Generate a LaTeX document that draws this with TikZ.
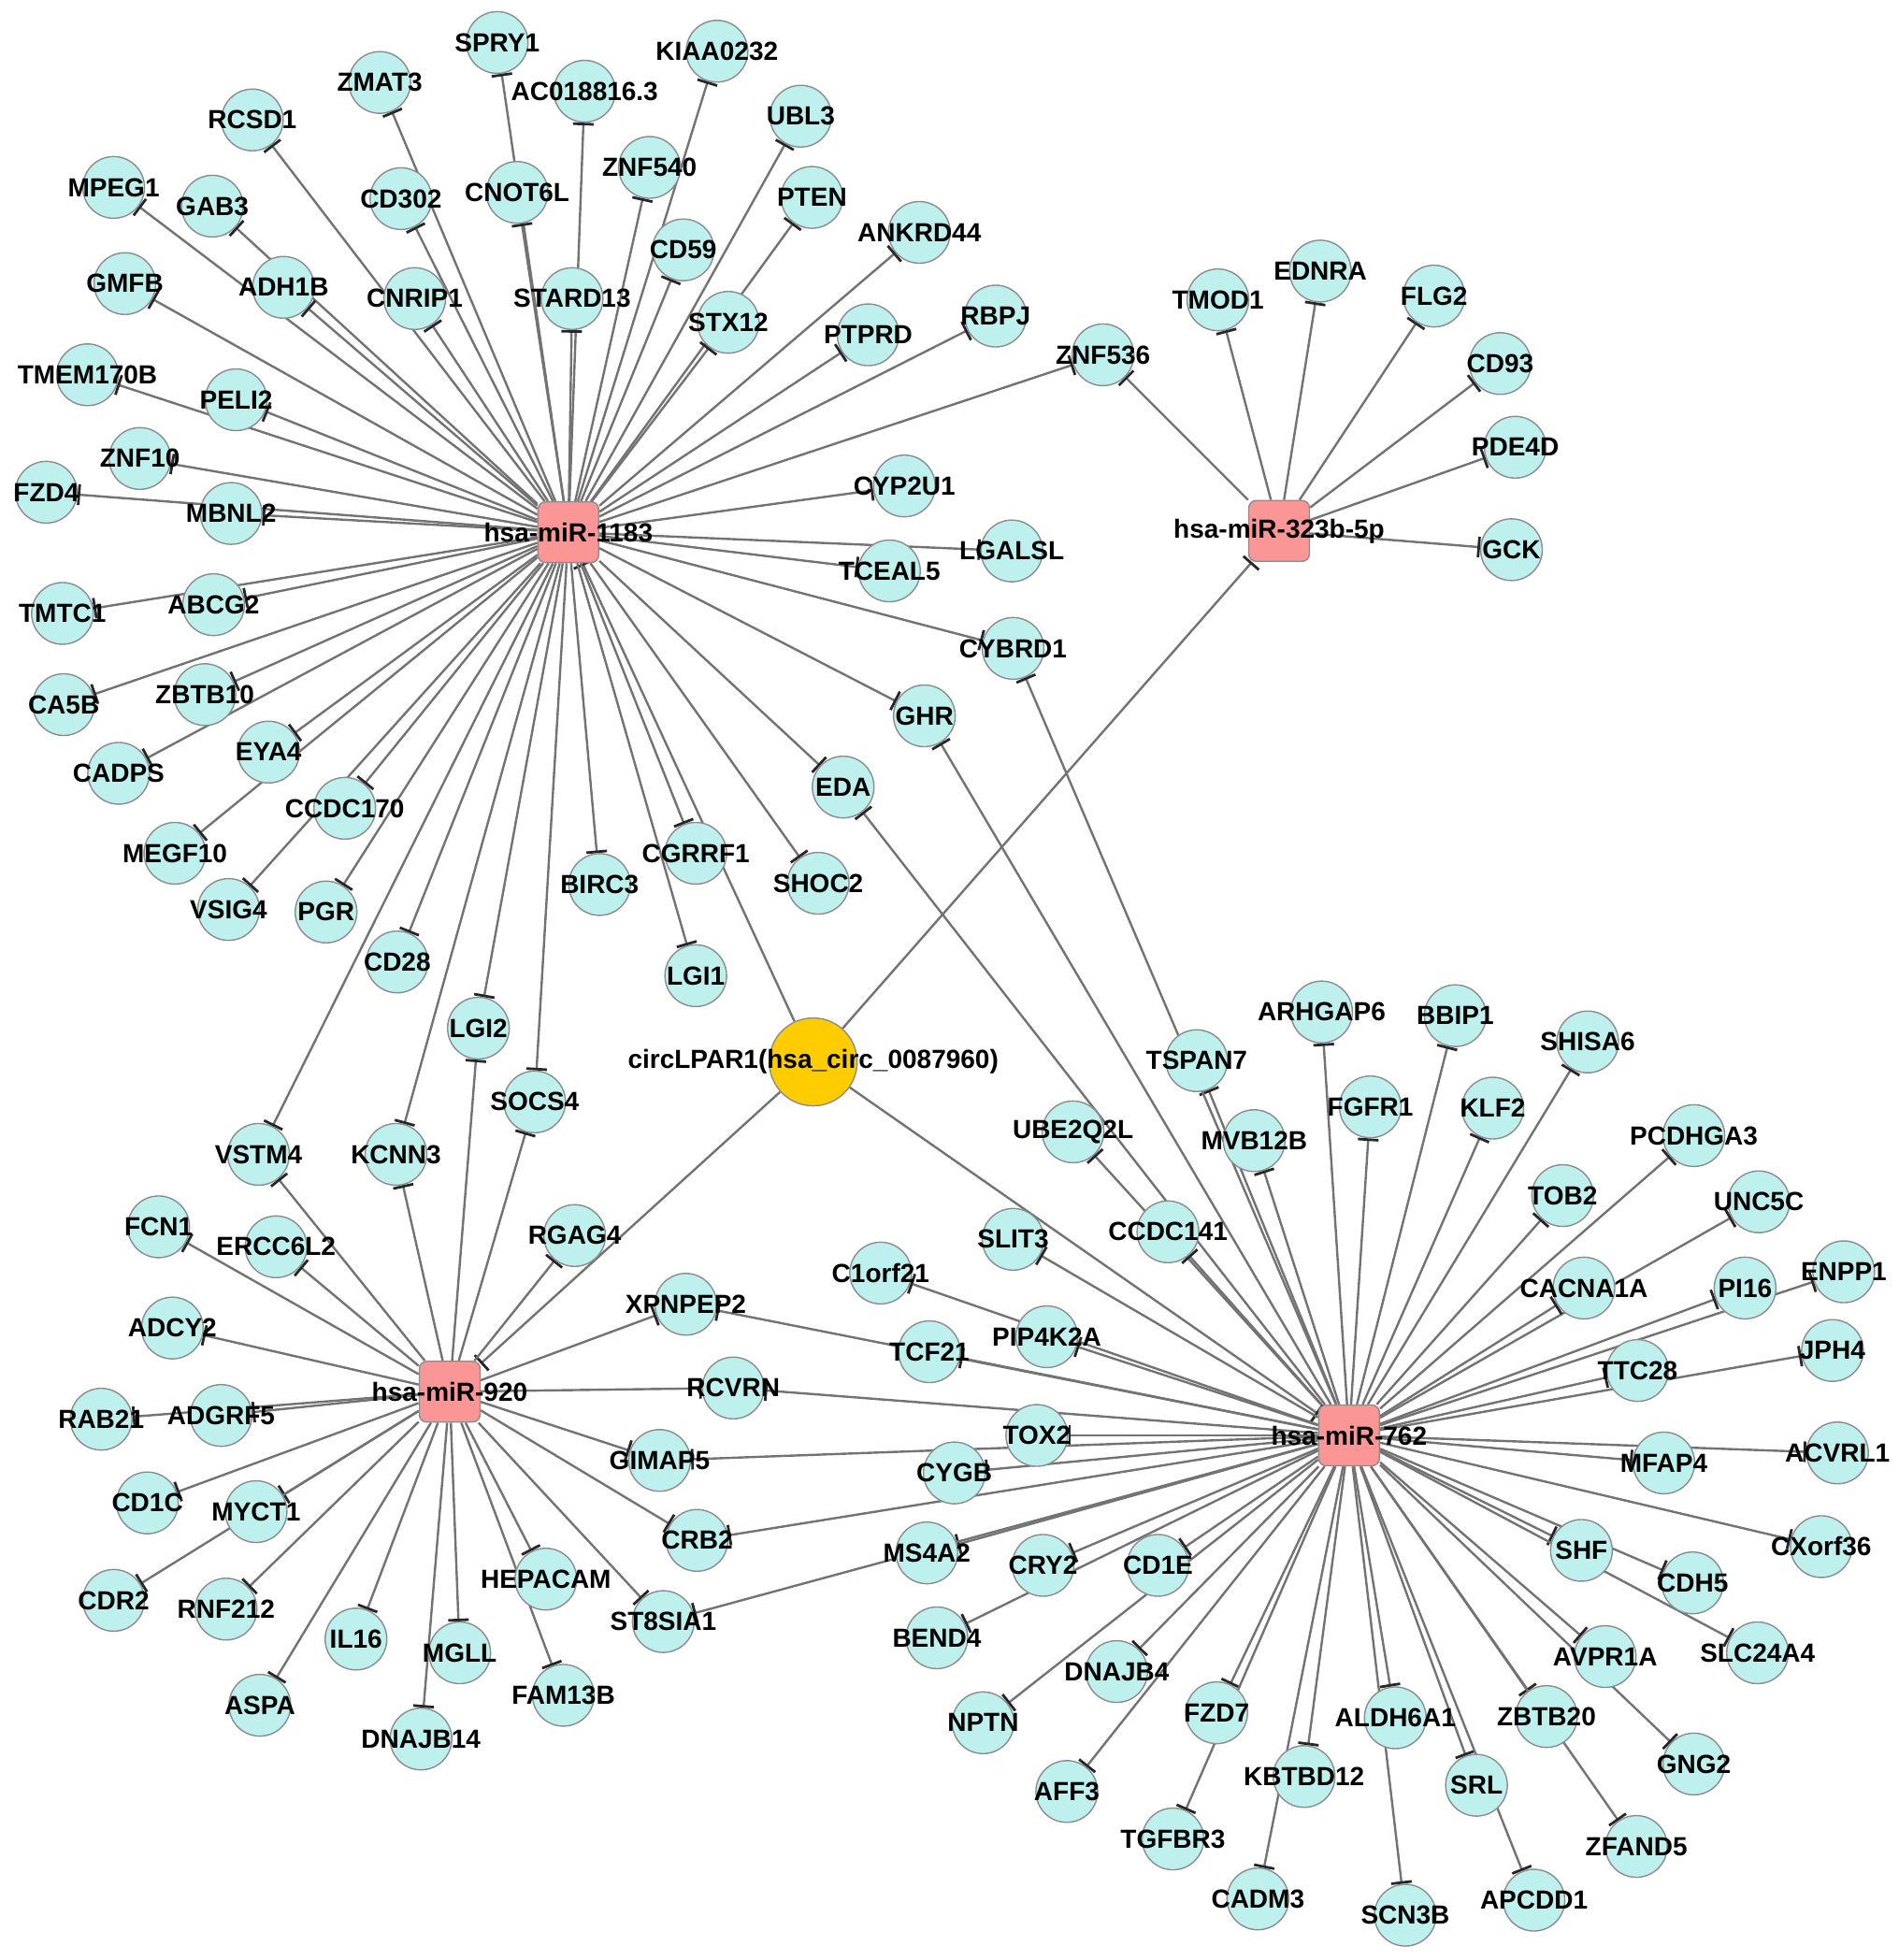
\documentclass[tikz,border=0pt]{standalone}
\usepackage{fontspec}
\setmainfont{Liberation Sans}
\usetikzlibrary{arrows.meta,backgrounds}
\definecolor{genefill}{RGB}{190,240,237}
\definecolor{nodeline}{RGB}{140,140,140}
\definecolor{mirfill}{RGB}{250,150,150}
\definecolor{circfill}{RGB}{255,204,0}
\definecolor{edgegray}{RGB}{115,115,115}
\begin{document}
\begin{tikzpicture}[
x=1.336pt, y=-1.336pt,
lbl/.style={font=\fontsize{28}{30}\selectfont\bfseries, inner sep=0pt, text=black},
gene/.style={circle, minimum size=66pt, inner sep=0pt, fill=genefill, draw=nodeline, line width=1.4pt, label={[lbl]center:#1}},
mirna/.style={rectangle, rounded corners=8pt, minimum size=65pt, inner sep=0pt, fill=mirfill, draw=nodeline, line width=1.4pt, label={[lbl]center:#1}},
circrna/.style={circle, minimum size=94pt, inner sep=0pt, fill=circfill, draw=nodeline, line width=1.4pt, label={[lbl]center:#1}},
inhib/.style={draw=edgegray, line width=2.4pt, -{Bar[width=22pt, line width=2.8pt, color=black!85]}}
]
\useasboundingbox (0,0) rectangle (1520.2,1568.9);

% hubs
\node[mirna=hsa-miR-1183] (m1183) at (455,426) {};
\node[mirna=hsa-miR-323b-5p] (m323) at (1024,425) {};
\node[mirna=hsa-miR-920] (m920) at (360,1114) {};
\node[mirna=hsa-miR-762] (m762) at (1080,1149) {};
\node[circrna=circLPAR1(hsa\_circ\_0087960)] (circ) at (651,850) {};

% targets of hsa-miR-1183
\node[gene=SPRY1] (spry1) at (398,34) {};
\node[gene=ZMAT3] (zmat3) at (304,66) {};
\node[gene=RCSD1] (rcsd1) at (202,96) {};
\node[gene=MPEG1] (mpeg1) at (91,150) {};
\node[gene=GAB3] (gab3) at (170,165) {};
\node[gene=AC018816.3] (ac018816) at (468,73) {};
\node[gene=KIAA0232] (kiaa0232) at (574,41) {};
\node[gene=UBL3] (ubl3) at (641,93) {};
\node[gene=ZNF540] (znf540) at (520,134) {};
\node[gene=CNOT6L] (cnot6l) at (414,154) {};
\node[gene=CD302] (cd302) at (321,159) {};
\node[gene=PTEN] (pten) at (650,158) {};
\node[gene=ANKRD44] (ankrd44) at (736,186) {};
\node[gene=CD59] (cd59) at (547,200) {};
\node[gene=ADH1B] (adh1b) at (227,230) {};
\node[gene=GMFB] (gmfb) at (100,227) {};
\node[gene=CNRIP1] (cnrip1) at (332,239) {};
\node[gene=STARD13] (stard13) at (458,239) {};
\node[gene=STX12] (stx12) at (583,258) {};
\node[gene=PTPRD] (ptprd) at (695,268) {};
\node[gene=RBPJ] (rbpj) at (797,253) {};
\node[gene=ZNF536] (znf536) at (883,284) {};
\node[gene=TMEM170B] (tmem170b) at (70,300) {};
\node[gene=PELI2] (peli2) at (189,320) {};
\node[gene=ZNF10] (znf10) at (112,367) {};
\node[gene=FZD4] (fzd4) at (37,394) {};
\node[gene=MBNL2] (mbnl2) at (185,411) {};
\node[gene=CYP2U1] (cyp2u1) at (724,389) {};
\node[gene=LGALSL] (lgalsl) at (810,441) {};
\node[gene=TCEAL5] (tceal5) at (712,457) {};
\node[gene=TMTC1] (tmtc1) at (50,491) {};
\node[gene=ABCG2] (abcg2) at (171,484) {};
\node[gene=CYBRD1] (cybrd1) at (811,519) {};
\node[gene=CA5B] (ca5b) at (51,564) {};
\node[gene=ZBTB10] (zbtb10) at (164,556) {};
\node[gene=GHR] (ghr) at (740,573) {};
\node[gene=CADPS] (cadps) at (95,619) {};
\node[gene=EYA4] (eya4) at (215,602) {};
\node[gene=EDA] (eda) at (675,630) {};
\node[gene=CCDC170] (ccdc170) at (276,647) {};
\node[gene=MEGF10] (megf10) at (140,683) {};
\node[gene=CGRRF1] (cgrrf1) at (557,683) {};
\node[gene=SHOC2] (shoc2) at (655,707) {};
\node[gene=BIRC3] (birc3) at (480,708) {};
\node[gene=VSIG4] (vsig4) at (183,728) {};
\node[gene=PGR] (pgr) at (261,730) {};
\node[gene=LGI1] (lgi1) at (557,781) {};
\node[gene=CD28] (cd28) at (318,770) {};
\node[gene=LGI2] (lgi2) at (383,823) {};
\node[gene=SOCS4] (socs4) at (428,882) {};
\node[gene=VSTM4] (vstm4) at (207,924) {};
\node[gene=KCNN3] (kcnn3) at (317,924) {};

% targets of hsa-miR-323b-5p
\node[gene=TMOD1] (tmod1) at (975,240) {};
\node[gene=EDNRA] (ednra) at (1057,217) {};
\node[gene=FLG2] (flg2) at (1148,237) {};
\node[gene=CD93] (cd93) at (1201,291) {};
\node[gene=PDE4D] (pde4d) at (1213,358) {};
\node[gene=GCK] (gck) at (1210,440) {};

% targets of hsa-miR-920
\node[gene=FCN1] (fcn1) at (127,982) {};
\node[gene=ERCC6L2] (ercc6l2) at (221,998) {};
\node[gene=RGAG4] (rgag4) at (460,989) {};
\node[gene=ADCY2] (adcy2) at (138,1063) {};
\node[gene=XPNPEP2] (xpnpep2) at (549,1044) {};
\node[gene=RAB21] (rab21) at (81,1136) {};
\node[gene=ADGRF5] (adgrf5) at (177,1133) {};
\node[gene=RCVRN] (rcvrn) at (587,1111) {};
\node[gene=GIMAP5] (gimap5) at (528,1169) {};
\node[gene=CD1C] (cd1c) at (118,1203) {};
\node[gene=MYCT1] (myct1) at (205,1210) {};
\node[gene=CRB2] (crb2) at (558,1233) {};
\node[gene=CDR2] (cdr2) at (91,1281) {};
\node[gene=RNF212] (rnf212) at (181,1288) {};
\node[gene=HEPACAM] (hepacam) at (437,1264) {};
\node[gene=ST8SIA1] (st8sia1) at (531,1298) {};
\node[gene=IL16] (il16) at (285,1312) {};
\node[gene=MGLL] (mgll) at (368,1323) {};
\node[gene=ASPA] (aspa) at (208,1365) {};
\node[gene=FAM13B] (fam13b) at (451,1357) {};
\node[gene=DNAJB14] (dnajb14) at (337,1392) {};

% targets of hsa-miR-762
\node[gene=TSPAN7] (tspan7) at (958,849) {};
\node[gene=UBE2Q2L] (ube2q2l) at (859,906) {};
\node[gene=CCDC141] (ccdc141) at (935,986) {};
\node[gene=ARHGAP6] (arhgap6) at (1058,810) {};
\node[gene=BBIP1] (bbip1) at (1165,813) {};
\node[gene=SHISA6] (shisa6) at (1271,834) {};
\node[gene=MVB12B] (mvb12b) at (1004,913) {};
\node[gene=FGFR1] (fgfr1) at (1097,886) {};
\node[gene=KLF2] (klf2) at (1195,887) {};
\node[gene=PCDHGA3] (pcdhga3) at (1356,909) {};
\node[gene=TOB2] (tob2) at (1251,957) {};
\node[gene=UNC5C] (unc5c) at (1408,962) {};
\node[gene=SLIT3] (slit3) at (811,992) {};
\node[gene=CACNA1A] (cacna1a) at (1268,1031) {};
\node[gene=PI16] (pi16) at (1397,1031) {};
\node[gene=ENPP1] (enpp1) at (1476,1018) {};
\node[gene=C1orf21] (c1orf21) at (705,1019) {};
\node[gene=PIP4K2A] (pip4k2a) at (838,1070) {};
\node[gene=TCF21] (tcf21) at (744,1082) {};
\node[gene=JPH4] (jph4) at (1467,1081) {};
\node[gene=TTC28] (ttc28) at (1311,1097) {};
\node[gene=TOX2] (tox2) at (830,1149) {};
\node[gene=CYGB] (cygb) at (764,1179) {};
\node[gene=MFAP4] (mfap4) at (1332,1171) {};
\node[gene=ACVRL1] (acvrl1) at (1471,1163) {};
\node[gene=MS4A2] (ms4a2) at (742,1243) {};
\node[gene=CRY2] (cry2) at (835,1253) {};
\node[gene=CD1E] (cd1e) at (927,1253) {};
\node[gene=BEND4] (bend4) at (750,1311) {};
\node[gene=SHF] (shf) at (1266,1241) {};
\node[gene=CDH5] (cdh5) at (1355,1267) {};
\node[gene=CXorf36] (cxorf36) at (1458,1238) {};
\node[gene=SLC24A4] (slc24a4) at (1407,1323) {};
\node[gene=AVPR1A] (avpr1a) at (1285,1326) {};
\node[gene=DNAJB4] (dnajb4) at (894,1338) {};
\node[gene=NPTN] (nptn) at (787,1379) {};
\node[gene=GNG2] (gng2) at (1356,1412) {};
\node[gene=FZD7] (fzd7) at (974,1371) {};
\node[gene=ALDH6A1] (aldh6a1) at (1117,1375) {};
\node[gene=ZBTB20] (zbtb20) at (1238,1374) {};
\node[gene=AFF3] (aff3) at (854,1434) {};
\node[gene=TGFBR3] (tgfbr3) at (939,1472) {};
\node[gene=KBTBD12] (kbtbd12) at (1044,1422) {};
\node[gene=SRL] (srl) at (1182,1429) {};
\node[gene=ZFAND5] (zfand5) at (1310,1478) {};
\node[gene=CADM3] (cadm3) at (1007,1520) {};
\node[gene=SCN3B] (scn3b) at (1125,1533) {};
\node[gene=APCDD1] (apcdd1) at (1228,1521) {};

% connectors, behind the nodes
\begin{scope}[on background layer]
\foreach \m in {m1183,m323,m920,m762}
    \draw[inhib] (circ) -- (\m);
\foreach \t in {spry1,zmat3,rcsd1,mpeg1,gab3,ac018816,kiaa0232,ubl3,znf540,cnot6l,
    cd302,pten,ankrd44,cd59,adh1b,gmfb,cnrip1,stard13,stx12,ptprd,rbpj,znf536,
    tmem170b,peli2,znf10,fzd4,mbnl2,cyp2u1,lgalsl,tceal5,tmtc1,abcg2,cybrd1,ca5b,
    zbtb10,ghr,cadps,eya4,eda,ccdc170,megf10,cgrrf1,shoc2,birc3,vsig4,pgr,lgi1,
    cd28,lgi2,socs4,vstm4,kcnn3}
    \draw[inhib] (m1183) -- (\t);
\foreach \t in {tmod1,ednra,flg2,cd93,pde4d,gck,znf536}
    \draw[inhib] (m323) -- (\t);
\foreach \t in {vstm4,kcnn3,lgi2,socs4,fcn1,ercc6l2,rgag4,adcy2,xpnpep2,rab21,
    adgrf5,rcvrn,gimap5,cd1c,myct1,crb2,cdr2,rnf212,hepacam,st8sia1,il16,mgll,
    aspa,fam13b,dnajb14}
    \draw[inhib] (m920) -- (\t);
\foreach \t in {tspan7,cybrd1,ghr,eda,ube2q2l,ccdc141,arhgap6,bbip1,shisa6,mvb12b,
    fgfr1,klf2,pcdhga3,tob2,unc5c,slit3,cacna1a,pi16,enpp1,c1orf21,pip4k2a,tcf21,
    xpnpep2,jph4,ttc28,rcvrn,tox2,cygb,gimap5,mfap4,acvrl1,crb2,ms4a2,st8sia1,
    cry2,cd1e,bend4,shf,cdh5,cxorf36,slc24a4,avpr1a,dnajb4,nptn,gng2,fzd7,
    aldh6a1,zbtb20,aff3,tgfbr3,kbtbd12,srl,zfand5,cadm3,scn3b,apcdd1}
    \draw[inhib] (m762) -- (\t);
\end{scope}
\end{tikzpicture}
\end{document}
